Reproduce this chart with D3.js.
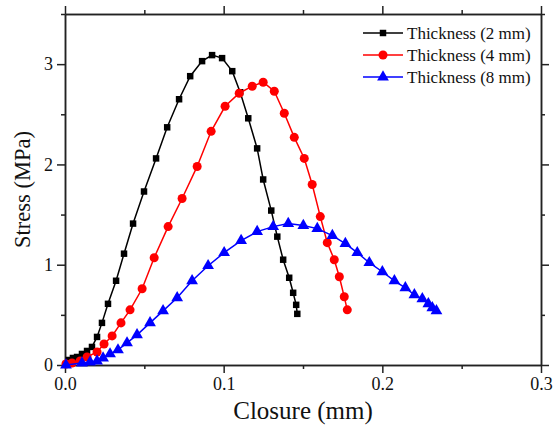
<!DOCTYPE html>
<html>
<head>
<meta charset="utf-8">
<script src="https://cdn.jsdelivr.net/npm/d3@7"></script>
<style>
  body { margin: 0; background: #fff; }
  svg text { font-family: "Liberation Serif", "Times New Roman", serif; }
</style>
</head>
<body>
<div id="chart"></div>
<script>
// closure (mm) / stress (MPa)
const closure2 = [0.0006, 0.0025, 0.005, 0.0076, 0.0107, 0.0139, 0.017, 0.0202, 0.0233, 0.0271, 0.0322,
  0.0372, 0.0429, 0.0498, 0.0574, 0.0644, 0.0719, 0.0789, 0.0864, 0.0927, 0.099, 0.1054, 0.1104,
  0.1155, 0.1211, 0.1249, 0.13, 0.1338, 0.1375, 0.1413, 0.1438, 0.1457, 0.1464];
const stress2 = [0.01, 0.05, 0.07, 0.08, 0.11, 0.14, 0.18, 0.28, 0.42, 0.61, 0.84,
  1.11, 1.41, 1.73, 2.06, 2.37, 2.65, 2.88, 3.03, 3.09, 3.06, 2.93, 2.72,
  2.46, 2.16, 1.85, 1.54, 1.28, 1.05, 0.87, 0.72, 0.6, 0.51];

const closure4 = [0.0006, 0.0044, 0.0095, 0.0139, 0.0202, 0.0246, 0.0297, 0.0353, 0.041, 0.0486,
  0.0562, 0.065, 0.0738, 0.0833, 0.0921, 0.1009, 0.1098, 0.118, 0.1249, 0.1319, 0.1382, 0.1445,
  0.1508, 0.1558, 0.1609, 0.1653, 0.1697, 0.1729, 0.176, 0.1779];
const stress4 = [0.01, 0.02, 0.04, 0.08, 0.13, 0.21, 0.29, 0.42, 0.55, 0.76,
  1.07, 1.38, 1.66, 1.98, 2.33, 2.58, 2.71, 2.78, 2.82, 2.73, 2.51, 2.27,
  2.06, 1.8, 1.48, 1.22, 1.05, 0.88, 0.68, 0.55];

const closure8 = [0.0006, 0.0107, 0.0158, 0.0202, 0.024, 0.0284, 0.0334, 0.0391, 0.0454, 0.0536,
  0.0618, 0.0707, 0.0801, 0.0902, 0.1003, 0.111, 0.1211, 0.1312, 0.1407, 0.1502, 0.159, 0.1685,
  0.1767, 0.1842, 0.1918, 0.2, 0.2076, 0.2145, 0.2202, 0.2252, 0.229, 0.2315, 0.2341];
const stress8 = [0.0, 0.02, 0.03, 0.04, 0.07, 0.11, 0.15, 0.22, 0.3, 0.42,
  0.54, 0.67, 0.84, 0.99, 1.12, 1.24, 1.33, 1.38, 1.41, 1.39, 1.36, 1.29,
  1.21, 1.12, 1.02, 0.93, 0.84, 0.77, 0.7, 0.66, 0.61, 0.57, 0.54];

const seriesNames = ["Thickness (2 mm)", "Thickness (4 mm)", "Thickness (8 mm)"];
const seriesColors = ["#000000", "#ff0000", "#0000ff"];
const seriesMarkers = [d3.symbolSquare, d3.symbolCircle, d3.symbolTriangle];

const xMajor = [0, 0.1, 0.2, 0.3];
const xMinor = [0.05, 0.15, 0.25];
const yMajor = [0, 1, 2, 3];
const yMinor = [0.5, 1.5, 2.5, 3.5];

let width = 553;
let height = 433;
let margin = {top: 14, right: 12, bottom: 68, left: 65};
let plotW = width - margin.left - margin.right;
let plotH = height - margin.top - margin.bottom;

let svg = d3.select("#chart")
  .append("svg")
  .attr("width", width)
  .attr("height", height);

let x = d3.scaleLinear().domain([0, 0.3]).range([0, plotW]);
let y = d3.scaleLinear().domain([0, 3.5]).range([plotH, 0]);

let g = svg.append("g")
  .attr("transform", "translate(" + margin.left + "," + margin.top + ")");

// axes: major ticks with labels, minor ticks without
function styleAxis(sel) {
  sel.selectAll("path, line").attr("stroke", "#222").attr("stroke-width", 1.5);
  sel.selectAll("text").attr("font-size", 18).attr("fill", "#111")
    .style("font-family", "'Liberation Serif', serif");
}

g.append("g").attr("transform", "translate(0," + plotH + ")")
  .call(d3.axisBottom(x).tickValues(xMinor).tickSize(4).tickFormat("").tickSizeOuter(0)).call(styleAxis);
g.append("g").attr("transform", "translate(0," + plotH + ")")
  .call(d3.axisBottom(x).tickValues(xMajor).tickSize(8).tickPadding(4).tickFormat(d3.format(".1f")).tickSizeOuter(0))
  .call(styleAxis);
g.append("g").call(d3.axisTop(x).tickValues(xMinor).tickSize(4).tickFormat("").tickSizeOuter(0)).call(styleAxis);
g.append("g").call(d3.axisTop(x).tickValues(xMajor).tickSize(8).tickFormat("").tickSizeOuter(0)).call(styleAxis);

g.append("g").call(d3.axisLeft(y).tickValues(yMinor).tickSize(4).tickFormat("").tickSizeOuter(0)).call(styleAxis);
g.append("g")
  .call(d3.axisLeft(y).tickValues(yMajor).tickSize(8).tickPadding(4).tickFormat(d3.format("d")).tickSizeOuter(0))
  .call(styleAxis);
g.append("g").attr("transform", "translate(" + plotW + ",0)")
  .call(d3.axisRight(y).tickValues(yMinor).tickSize(4).tickFormat("").tickSizeOuter(0)).call(styleAxis);
g.append("g").attr("transform", "translate(" + plotW + ",0)")
  .call(d3.axisRight(y).tickValues(yMajor).tickSize(8).tickFormat("").tickSizeOuter(0)).call(styleAxis);

// axis titles
svg.append("text")
  .attr("x", margin.left + plotW / 2)
  .attr("y", 419)
  .attr("text-anchor", "middle")
  .attr("font-size", 25)
  .attr("fill", "#111")
  .text("Closure (mm)");

svg.append("text")
  .attr("transform", "translate(30," + (margin.top + plotH / 2) + ") rotate(-90)")
  .attr("text-anchor", "middle")
  .attr("font-size", 22.5)
  .attr("fill", "#111")
  .text("Stress (MPa)");

// series
let allSeries = [
  closure2.map((c, i) => ({x: c, y: stress2[i]})),
  closure4.map((c, i) => ({x: c, y: stress4[i]})),
  closure8.map((c, i) => ({x: c, y: stress8[i]}))
];
let markerSizes = [42, 64, 60];

let line = d3.line().x(d => x(d.x)).y(d => y(d.y));

allSeries.forEach(function(data, k) {
  g.append("path")
    .datum(data)
    .attr("fill", "none")
    .attr("stroke", seriesColors[k])
    .attr("stroke-width", 1.5)
    .attr("d", line);
  g.append("g").selectAll("path")
    .data(data)
    .enter()
    .append("path")
    .attr("transform", d => "translate(" + x(d.x) + "," + y(d.y) + ")")
    .attr("d", d3.symbol().type(seriesMarkers[k]).size(markerSizes[k]))
    .attr("fill", seriesColors[k]);
});

// legend
let legend = svg.append("g").attr("transform", "translate(363,33)");
seriesNames.forEach(function(name, k) {
  let row = legend.append("g").attr("transform", "translate(0," + (k * 22) + ")");
  row.append("line")
    .attr("x1", 0).attr("x2", 40).attr("y1", 0).attr("y2", 0)
    .attr("stroke", seriesColors[k]).attr("stroke-width", 1.5);
  row.append("path")
    .attr("transform", "translate(20,0)")
    .attr("d", d3.symbol().type(seriesMarkers[k]).size(markerSizes[k]))
    .attr("fill", seriesColors[k]);
  row.append("text")
    .attr("x", 44).attr("y", 6)
    .attr("font-size", 17)
    .attr("fill", "#111")
    .text(name);
});
</script>
</body>
</html>
